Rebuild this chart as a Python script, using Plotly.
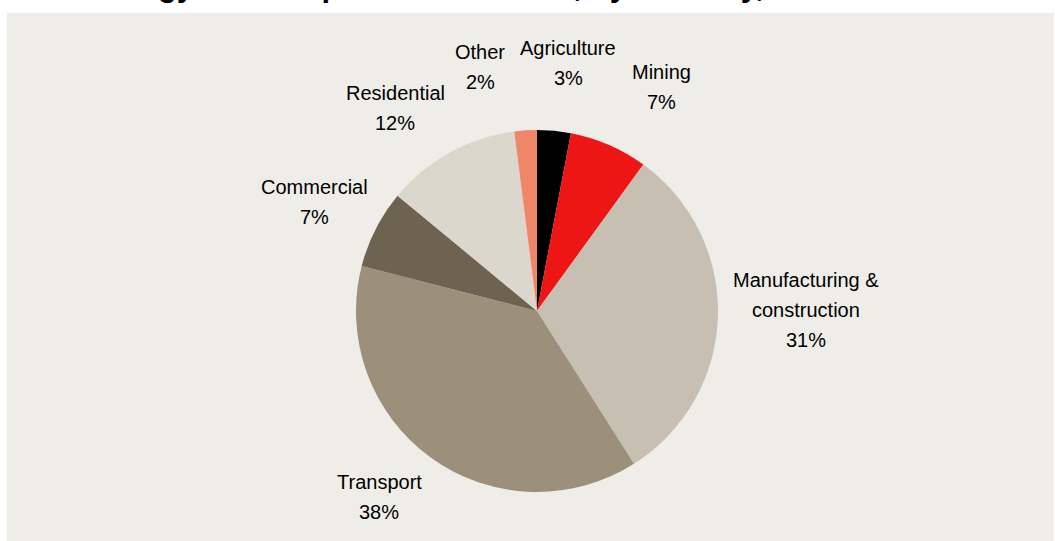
import plotly.graph_objects as go

# Energy consumption shares by industry (per cent)
categories = [
    "Agriculture",
    "Mining",
    "Manufacturing &<br>construction",
    "Transport",
    "Commercial",
    "Residential",
    "Other",
]
shares = [3, 7, 31, 38, 7, 12, 2]
colors = ["#000000", "#EE1515", "#C7BFB2", "#9C907B", "#6E6351", "#DBD7CD", "#F08668"]

TITLE = "Energy consumption in Australia, by industry, 2013–14"

W, H = 1055, 541
FONT = "Arial, 'Liberation Sans', sans-serif"

# label anchor (centre x, centre y of first line) in pixels
label_pos = [
    (568, 48),
    (661, 72),
    (806, 280),
    (379, 482),
    (314, 187),
    (395, 93),
    (480, 52),
]
LINE_GAP = 30


def px(x):
    return x / W


def py(y):
    return 1 - y / H


cx, cy, r = 537, 311, 181

fig = go.Figure(
    go.Pie(
        labels=[c.replace("<br>", " ") for c in categories],
        values=shares,
        sort=False,
        direction="clockwise",
        rotation=0,
        marker=dict(colors=colors, line=dict(width=0)),
        textinfo="none",
        showlegend=False,
        domain=dict(x=[px(cx - r), px(cx + r)], y=[py(cy + r), py(cy - r)]),
    )
)

annotations = []
for name, val, (lx, ly) in zip(categories, shares, label_pos):
    lines = name.split("<br>") + [f"{val}%"]
    for i, line in enumerate(lines):
        annotations.append(
            dict(
                x=px(lx), y=py(ly + i * LINE_GAP), xref="paper", yref="paper",
                text=line, showarrow=False, xanchor="center", yanchor="middle",
                font=dict(family=FONT, size=20, color="#000000"),
            )
        )

# title sits above the top edge; only its descenders reach into view
annotations.append(
    dict(
        x=px(88), y=py(-15), xref="paper", yref="paper", text=f"<b>{TITLE}</b>",
        showarrow=False, xanchor="left", yanchor="middle", borderpad=0,
        font=dict(family=FONT, size=31, color="#000000"),
    )
)

fig.update_layout(
    width=W,
    height=H,
    margin=dict(l=0, r=0, t=0, b=0),
    paper_bgcolor="#FFFFFF",
    plot_bgcolor="#FFFFFF",
    annotations=annotations,
    shapes=[
        dict(
            type="rect", xref="paper", yref="paper",
            x0=px(7), x1=px(1054), y0=0, y1=py(13),
            fillcolor="#EFEDE8", line=dict(width=0), layer="below",
        )
    ],
)

fig.write_html("out.html")
